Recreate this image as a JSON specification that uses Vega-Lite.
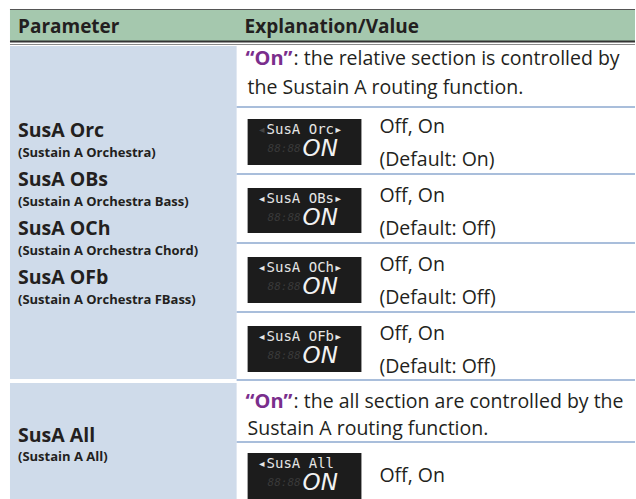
{
  "$schema": "https://vega.github.io/schema/vega-lite/v6.json",
  "autosize": {"type": "fit", "contains": "padding"},
  "width": 636,
  "height": 499,
  "padding": 0,
  "background": "white",
  "config": {"view": {"stroke": null}},
  "datasets": {
    "cells": [
      {"kind": "header", "x0": 10, "x1": 636, "y0": 9, "y1": 41},
      {"kind": "param", "x0": 10, "x1": 237, "y0": 46, "y1": 379},
      {"kind": "param", "x0": 10, "x1": 237, "y0": 383, "y1": 499},
      {"kind": "display", "x0": 248, "x1": 362, "y0": 119, "y1": 165},
      {"kind": "display", "x0": 248, "x1": 362, "y0": 188, "y1": 233},
      {"kind": "display", "x0": 248, "x1": 362, "y0": 257, "y1": 303},
      {"kind": "display", "x0": 248, "x1": 362, "y0": 326, "y1": 372},
      {"kind": "display", "x0": 248, "x1": 362, "y0": 453, "y1": 499}
    ],
    "lines": [
      {"kind": "top", "x0": 10, "x1": 636, "y": 9.5},
      {"kind": "headbottom", "x0": 10, "x1": 636, "y": 41.5},
      {"kind": "headthin", "x0": 10, "x1": 636, "y": 44.5},
      {"kind": "sep", "x0": 237, "x1": 636, "y": 107},
      {"kind": "sep", "x0": 237, "x1": 636, "y": 174},
      {"kind": "sep", "x0": 237, "x1": 636, "y": 243},
      {"kind": "sep", "x0": 237, "x1": 636, "y": 312},
      {"kind": "sep", "x0": 237, "x1": 636, "y": 380},
      {"kind": "sep", "x0": 237, "x1": 636, "y": 442}
    ],
    "texts": [
      {"kind": "header", "label": "Parameter", "x": 18, "y": 27},
      {"kind": "header", "label": "Explanation/Value", "x": 245, "y": 27},
      {"kind": "param", "label": "SusA Orc", "x": 18, "y": 131},
      {"kind": "sub", "label": "(Sustain A Orchestra)", "x": 18, "y": 153},
      {"kind": "param", "label": "SusA OBs", "x": 18, "y": 180},
      {"kind": "sub", "label": "(Sustain A Orchestra Bass)", "x": 18, "y": 202},
      {"kind": "param", "label": "SusA OCh", "x": 18, "y": 229},
      {"kind": "sub", "label": "(Sustain A Orchestra Chord)", "x": 18, "y": 251},
      {"kind": "param", "label": "SusA OFb", "x": 18, "y": 278},
      {"kind": "sub", "label": "(Sustain A Orchestra FBass)", "x": 18, "y": 300},
      {"kind": "param", "label": "SusA All", "x": 18, "y": 436},
      {"kind": "sub", "label": "(Sustain A All)", "x": 18, "y": 457},
      {"kind": "on", "label": "“On”", "x": 246, "y": 59},
      {"kind": "body", "label": ": the relative section is controlled by", "x": 294, "y": 59},
      {"kind": "body", "label": "the Sustain A routing function.", "x": 248, "y": 88},
      {"kind": "body", "label": "Off, On", "x": 380, "y": 127},
      {"kind": "body", "label": "(Default: On)", "x": 380, "y": 160},
      {"kind": "body", "label": "Off, On", "x": 380, "y": 196},
      {"kind": "body", "label": "(Default: Off)", "x": 380, "y": 229},
      {"kind": "body", "label": "Off, On", "x": 380, "y": 265},
      {"kind": "body", "label": "(Default: Off)", "x": 380, "y": 298},
      {"kind": "body", "label": "Off, On", "x": 380, "y": 334},
      {"kind": "body", "label": "(Default: Off)", "x": 380, "y": 367},
      {"kind": "on", "label": "“On”", "x": 246, "y": 402},
      {"kind": "body", "label": ": the all section are controlled by the", "x": 294, "y": 402},
      {"kind": "body", "label": "Sustain A routing function.", "x": 248, "y": 429},
      {"kind": "body", "label": "Off, On", "x": 380, "y": 476}
    ],
    "lcd": [
      {"kind": "arrowDim", "label": "◂", "x": 258, "y": 130},
      {"kind": "small", "label": "SusA Orc▸", "x": 267, "y": 130},
      {"kind": "arrowOn", "label": "◂", "x": 258, "y": 199},
      {"kind": "small", "label": "SusA OBs▸", "x": 267, "y": 199},
      {"kind": "arrowOn", "label": "◂", "x": 258, "y": 268},
      {"kind": "small", "label": "SusA OCh▸", "x": 267, "y": 268},
      {"kind": "arrowOn", "label": "◂", "x": 258, "y": 337},
      {"kind": "small", "label": "SusA OFb▸", "x": 267, "y": 337},
      {"kind": "arrowOn", "label": "◂", "x": 258, "y": 464},
      {"kind": "small", "label": "SusA All", "x": 267, "y": 464},
      {"kind": "ghost", "label": "88:88", "x": 268, "y": 149},
      {"kind": "ghost", "label": "88:88", "x": 268, "y": 218},
      {"kind": "ghost", "label": "88:88", "x": 268, "y": 287},
      {"kind": "ghost", "label": "88:88", "x": 268, "y": 356},
      {"kind": "ghost", "label": "88:88", "x": 268, "y": 483},
      {"kind": "big", "label": "ON", "x": 303, "y": 149},
      {"kind": "big", "label": "ON", "x": 303, "y": 218},
      {"kind": "big", "label": "ON", "x": 303, "y": 287},
      {"kind": "big", "label": "ON", "x": 303, "y": 356},
      {"kind": "big", "label": "ON", "x": 303, "y": 483}
    ]
  },
  "layer": [
    {
      "data": {"name": "cells"},
      "mark": {"type": "rect"},
      "encoding": {
        "x": {"field": "x0", "type": "quantitative", "scale": {"domain": [0, 636], "nice": false, "zero": false}, "axis": null},
        "x2": {"field": "x1"},
        "y": {"field": "y0", "type": "quantitative", "scale": {"domain": [0, 499], "nice": false, "zero": false, "reverse": true}, "axis": null},
        "y2": {"field": "y1"},
        "color": {"field": "kind", "type": "nominal", "scale": {"domain": ["header", "param", "display"], "range": ["#a5c8ae", "#cfdbea", "#1c1c1c"]}, "legend": null}
      }
    },
    {
      "data": {"name": "lines"},
      "transform": [{"filter": "datum.kind === 'sep'"}],
      "mark": {"type": "rule", "strokeWidth": 2, "color": "#a9bedb"},
      "encoding": {
        "x": {"field": "x0", "type": "quantitative"},
        "x2": {"field": "x1"},
        "y": {"field": "y", "type": "quantitative"}
      }
    },
    {
      "data": {"name": "lines"},
      "transform": [{"filter": "datum.kind === 'top'"}],
      "mark": {"type": "rule", "strokeWidth": 1, "color": "#555555"},
      "encoding": {
        "x": {"field": "x0", "type": "quantitative"},
        "x2": {"field": "x1"},
        "y": {"field": "y", "type": "quantitative"}
      }
    },
    {
      "data": {"name": "lines"},
      "transform": [{"filter": "datum.kind === 'headbottom'"}],
      "mark": {"type": "rule", "strokeWidth": 2, "color": "#333333"},
      "encoding": {
        "x": {"field": "x0", "type": "quantitative"},
        "x2": {"field": "x1"},
        "y": {"field": "y", "type": "quantitative"}
      }
    },
    {
      "data": {"name": "lines"},
      "transform": [{"filter": "datum.kind === 'headthin'"}],
      "mark": {"type": "rule", "strokeWidth": 1, "color": "#8a8a8a"},
      "encoding": {
        "x": {"field": "x0", "type": "quantitative"},
        "x2": {"field": "x1"},
        "y": {"field": "y", "type": "quantitative"}
      }
    },
    {
      "data": {"name": "texts"},
      "transform": [{"filter": "datum.kind === 'header'"}],
      "mark": {"type": "text", "align": "left", "baseline": "middle", "font": "Open Sans", "fontWeight": "bold", "fontSize": 19, "color": "#231f20"},
      "encoding": {
        "x": {"field": "x", "type": "quantitative"},
        "y": {"field": "y", "type": "quantitative"},
        "text": {"field": "label"}
      }
    },
    {
      "data": {"name": "texts"},
      "transform": [{"filter": "datum.kind === 'param'"}],
      "mark": {"type": "text", "align": "left", "baseline": "middle", "font": "Open Sans", "fontWeight": "bold", "fontSize": 19.5, "color": "#231f20"},
      "encoding": {
        "x": {"field": "x", "type": "quantitative"},
        "y": {"field": "y", "type": "quantitative"},
        "text": {"field": "label"}
      }
    },
    {
      "data": {"name": "texts"},
      "transform": [{"filter": "datum.kind === 'sub'"}],
      "mark": {"type": "text", "align": "left", "baseline": "middle", "font": "Open Sans", "fontWeight": "bold", "fontSize": 13, "color": "#231f20"},
      "encoding": {
        "x": {"field": "x", "type": "quantitative"},
        "y": {"field": "y", "type": "quantitative"},
        "text": {"field": "label"}
      }
    },
    {
      "data": {"name": "texts"},
      "transform": [{"filter": "datum.kind === 'body'"}],
      "mark": {"type": "text", "align": "left", "baseline": "middle", "font": "Open Sans", "fontSize": 19.5, "color": "#231f20"},
      "encoding": {
        "x": {"field": "x", "type": "quantitative"},
        "y": {"field": "y", "type": "quantitative"},
        "text": {"field": "label"}
      }
    },
    {
      "data": {"name": "texts"},
      "transform": [{"filter": "datum.kind === 'on'"}],
      "mark": {"type": "text", "align": "left", "baseline": "middle", "font": "Open Sans", "fontWeight": "bold", "fontSize": 20, "color": "#7a2e8c"},
      "encoding": {
        "x": {"field": "x", "type": "quantitative"},
        "y": {"field": "y", "type": "quantitative"},
        "text": {"field": "label"}
      }
    },
    {
      "data": {"name": "lcd"},
      "transform": [{"filter": "datum.kind === 'ghost'"}],
      "mark": {"type": "text", "align": "left", "baseline": "middle", "font": "DejaVu Sans Mono", "fontStyle": "italic", "fontSize": 11, "color": "#3a3a3a"},
      "encoding": {
        "x": {"field": "x", "type": "quantitative"},
        "y": {"field": "y", "type": "quantitative"},
        "text": {"field": "label"}
      }
    },
    {
      "data": {"name": "lcd"},
      "transform": [{"filter": "datum.kind === 'small' || datum.kind === 'arrowOn'"}],
      "mark": {"type": "text", "align": "left", "baseline": "middle", "font": "DejaVu Sans Mono", "fontSize": 14, "color": "#e6e6e6"},
      "encoding": {
        "x": {"field": "x", "type": "quantitative"},
        "y": {"field": "y", "type": "quantitative"},
        "text": {"field": "label"}
      }
    },
    {
      "data": {"name": "lcd"},
      "transform": [{"filter": "datum.kind === 'arrowDim'"}],
      "mark": {"type": "text", "align": "left", "baseline": "middle", "font": "DejaVu Sans Mono", "fontSize": 14, "color": "#444444"},
      "encoding": {
        "x": {"field": "x", "type": "quantitative"},
        "y": {"field": "y", "type": "quantitative"},
        "text": {"field": "label"}
      }
    },
    {
      "data": {"name": "lcd"},
      "transform": [{"filter": "datum.kind === 'big'"}],
      "mark": {"type": "text", "align": "left", "baseline": "middle", "font": "DejaVu Sans", "fontStyle": "italic", "fontWeight": 200, "fontSize": 23, "color": "#f2f2f2"},
      "encoding": {
        "x": {"field": "x", "type": "quantitative"},
        "y": {"field": "y", "type": "quantitative"},
        "text": {"field": "label"}
      }
    }
  ]
}
